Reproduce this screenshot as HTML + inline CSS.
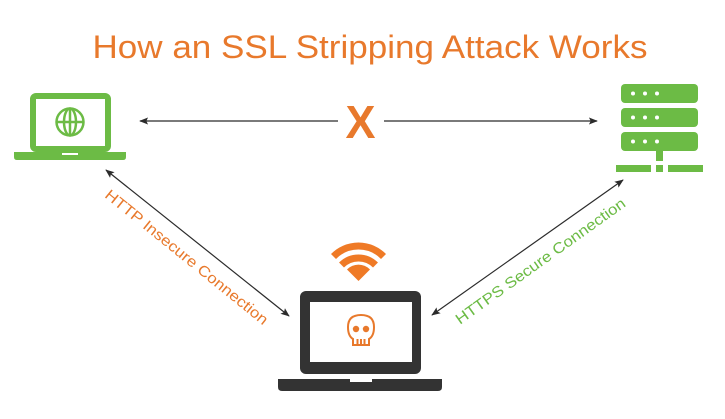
<!DOCTYPE html>
<html><head><meta charset="utf-8"><style>
html,body{margin:0;padding:0;background:#fff;}
svg{display:block;}
</style></head><body>
<svg width="725" height="419" viewBox="0 0 725 419" xmlns="http://www.w3.org/2000/svg">
<defs>
<marker id="ah" viewBox="0 0 10 10" refX="9" refY="5" markerWidth="9" markerHeight="9" orient="auto-start-reverse" markerUnits="userSpaceOnUse">
<path d="M0,1 L10,5 L0,9 L2,5 Z" fill="#2b2b2b"/>
</marker>
</defs>
<text x="370" y="58" text-anchor="middle" font-family="Liberation Sans, sans-serif" font-size="32" fill="#e8792c" textLength="555" lengthAdjust="spacingAndGlyphs">How an SSL Stripping Attack Works</text>

<!-- left laptop -->
<rect x="33" y="96" width="75" height="53" rx="3" fill="none" stroke="#6cbb45" stroke-width="6"/>
<path d="M14,152 H126 V157 Q126,160 123,160 H17 Q14,160 14,157 Z" fill="#6cbb45"/>
<rect x="62" y="153" width="16" height="2" fill="#fff"/>
<g fill="none" stroke="#6cbb45" stroke-width="2.5">
<circle cx="70" cy="122" r="13.5"/>
<ellipse cx="70" cy="122" rx="6" ry="13.5"/>
<line x1="56.5" y1="122" x2="83.5" y2="122"/>
<line x1="70" y1="108.5" x2="70" y2="135.5"/>
</g>

<!-- server -->
<g fill="#6cbb45">
<rect x="621" y="84" width="77" height="19" rx="4"/>
<rect x="621" y="108" width="77" height="19" rx="4"/>
<rect x="621" y="132" width="77" height="19" rx="4"/>
<rect x="656" y="150" width="7" height="11"/>
<rect x="616" y="165" width="35" height="7"/>
<rect x="656" y="165" width="7" height="7"/>
<rect x="668" y="165" width="35" height="7"/>
</g>
<g fill="#fff">
<circle cx="633" cy="93.5" r="2"/><circle cx="645" cy="93.5" r="2"/><circle cx="657" cy="93.5" r="2"/>
<circle cx="633" cy="117.5" r="2"/><circle cx="645" cy="117.5" r="2"/><circle cx="657" cy="117.5" r="2"/>
<circle cx="633" cy="141.5" r="2"/><circle cx="645" cy="141.5" r="2"/><circle cx="657" cy="141.5" r="2"/>
</g>

<!-- top arrow -->
<line x1="140" y1="121" x2="597" y2="121" stroke="#2b2b2b" stroke-width="1.3" marker-start="url(#ah)" marker-end="url(#ah)"/>
<rect x="338" y="115" width="46" height="12" fill="#fff"/>
<text x="360.5" y="138" text-anchor="middle" font-family="Liberation Sans, sans-serif" font-weight="bold" font-size="46" fill="#e8792c" textLength="30" lengthAdjust="spacingAndGlyphs">X</text>

<!-- diagonals -->
<line x1="106" y1="170" x2="289" y2="316" stroke="#2b2b2b" stroke-width="1.2" marker-start="url(#ah)" marker-end="url(#ah)"/>
<line x1="432" y1="315" x2="623" y2="180" stroke="#2b2b2b" stroke-width="1.2" marker-start="url(#ah)" marker-end="url(#ah)"/>
<text transform="translate(186,258) rotate(39)" text-anchor="middle" dominant-baseline="middle" font-family="Liberation Sans, sans-serif" font-size="15" fill="#e8792c" textLength="205" lengthAdjust="spacingAndGlyphs">HTTP Insecure Connection</text>
<text transform="translate(541,262) rotate(-35.6)" text-anchor="middle" dominant-baseline="middle" font-family="Liberation Sans, sans-serif" font-size="15" fill="#6cbb45" textLength="205" lengthAdjust="spacingAndGlyphs">HTTPS Secure Connection</text>

<!-- wifi -->
<g fill="none" stroke="#ef7a26" stroke-width="7">
<path d="M333.5,256.5 A35,35 0 0 1 383.5,256.5"/>
<path d="M341.5,265 A24,24 0 0 1 375.5,265"/>
</g>
<path d="M358.5,281 L347,269.5 A16,16 0 0 1 370,269.5 Z" fill="#ef7a26"/>

<!-- bottom laptop -->
<rect x="300" y="291" width="121" height="83" rx="6" fill="#333"/>
<rect x="310" y="302" width="102" height="60" fill="#fff"/>
<path d="M278,379 H442 V387 Q442,391 438,391 H282 Q278,391 278,387 Z" fill="#333"/>
<rect x="350" y="379" width="22" height="3" fill="#fff"/>
<!-- skull -->
<g fill="none" stroke="#e8792c" stroke-width="2">
<path d="M353,339 Q348,336 348,327 Q348,315 361,315 Q374,315 374,327 Q374,336 369,339 V345 H353 Z"/>
<line x1="357.5" y1="339" x2="357.5" y2="345"/>
<line x1="361" y1="339" x2="361" y2="345"/>
<line x1="364.5" y1="339" x2="364.5" y2="345"/>
</g>
<circle cx="356" cy="329" r="3.2" fill="#e8792c"/>
<circle cx="366" cy="329" r="3.2" fill="#e8792c"/>
</svg>
</body></html>
